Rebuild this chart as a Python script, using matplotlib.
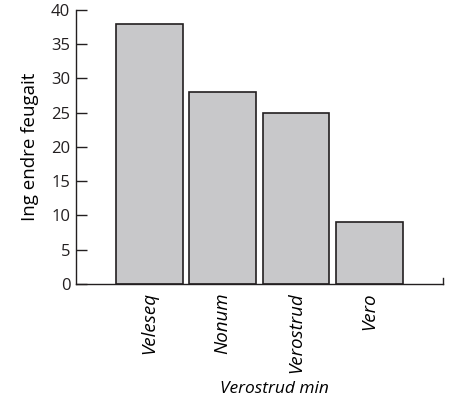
import matplotlib.pyplot as plt

categories = ['Veleseq', 'Nonum', 'Verostrud', 'Vero']
values = [38, 28, 25, 9]
y_ticks = [0, 5, 10, 15, 20, 25, 30, 35, 40]

plt.rcParams['font.family'] = ['Open Sans', 'DejaVu Sans']
plt.rcParams['font.size'] = 12

fig = plt.figure(figsize=(4.57, 4.01), dpi=100)
ax = fig.add_axes([0.166, 0.292, 0.803, 0.683])

x = list(range(len(categories)))
ax.bar(x, values, width=0.91, color='#c8c8ca', edgecolor='#231f20', linewidth=1.2)

ax.set_xlim(-1, 4)
ax.set_ylim(0, 40)
ax.set_yticks(y_ticks)
ax.tick_params(axis='y', direction='in', length=8, width=1, colors='#231f20', labelsize=12, pad=4)

# kategorien ohne ticks, nur ein kleiner strich am ende der achse
ax.set_xticks(x)
ax.set_xticklabels(categories, rotation=90, style='italic', fontsize=13.5)
ax.tick_params(axis='x', length=0, pad=6)
ax.plot([4, 4], [0, 0.8], color='#231f20', lw=1, clip_on=False)

for s in ['top', 'right']:
    ax.spines[s].set_visible(False)
for s in ['left', 'bottom']:
    ax.spines[s].set_color('#231f20')
    ax.spines[s].set_linewidth(1)

ax.set_ylabel('Ing endre feugait', fontsize=13.5, labelpad=9)
ax.set_xlabel('Verostrud min', style='italic', fontsize=12.5, labelpad=6, x=0.54)

plt.savefig('out.png', dpi=100)
